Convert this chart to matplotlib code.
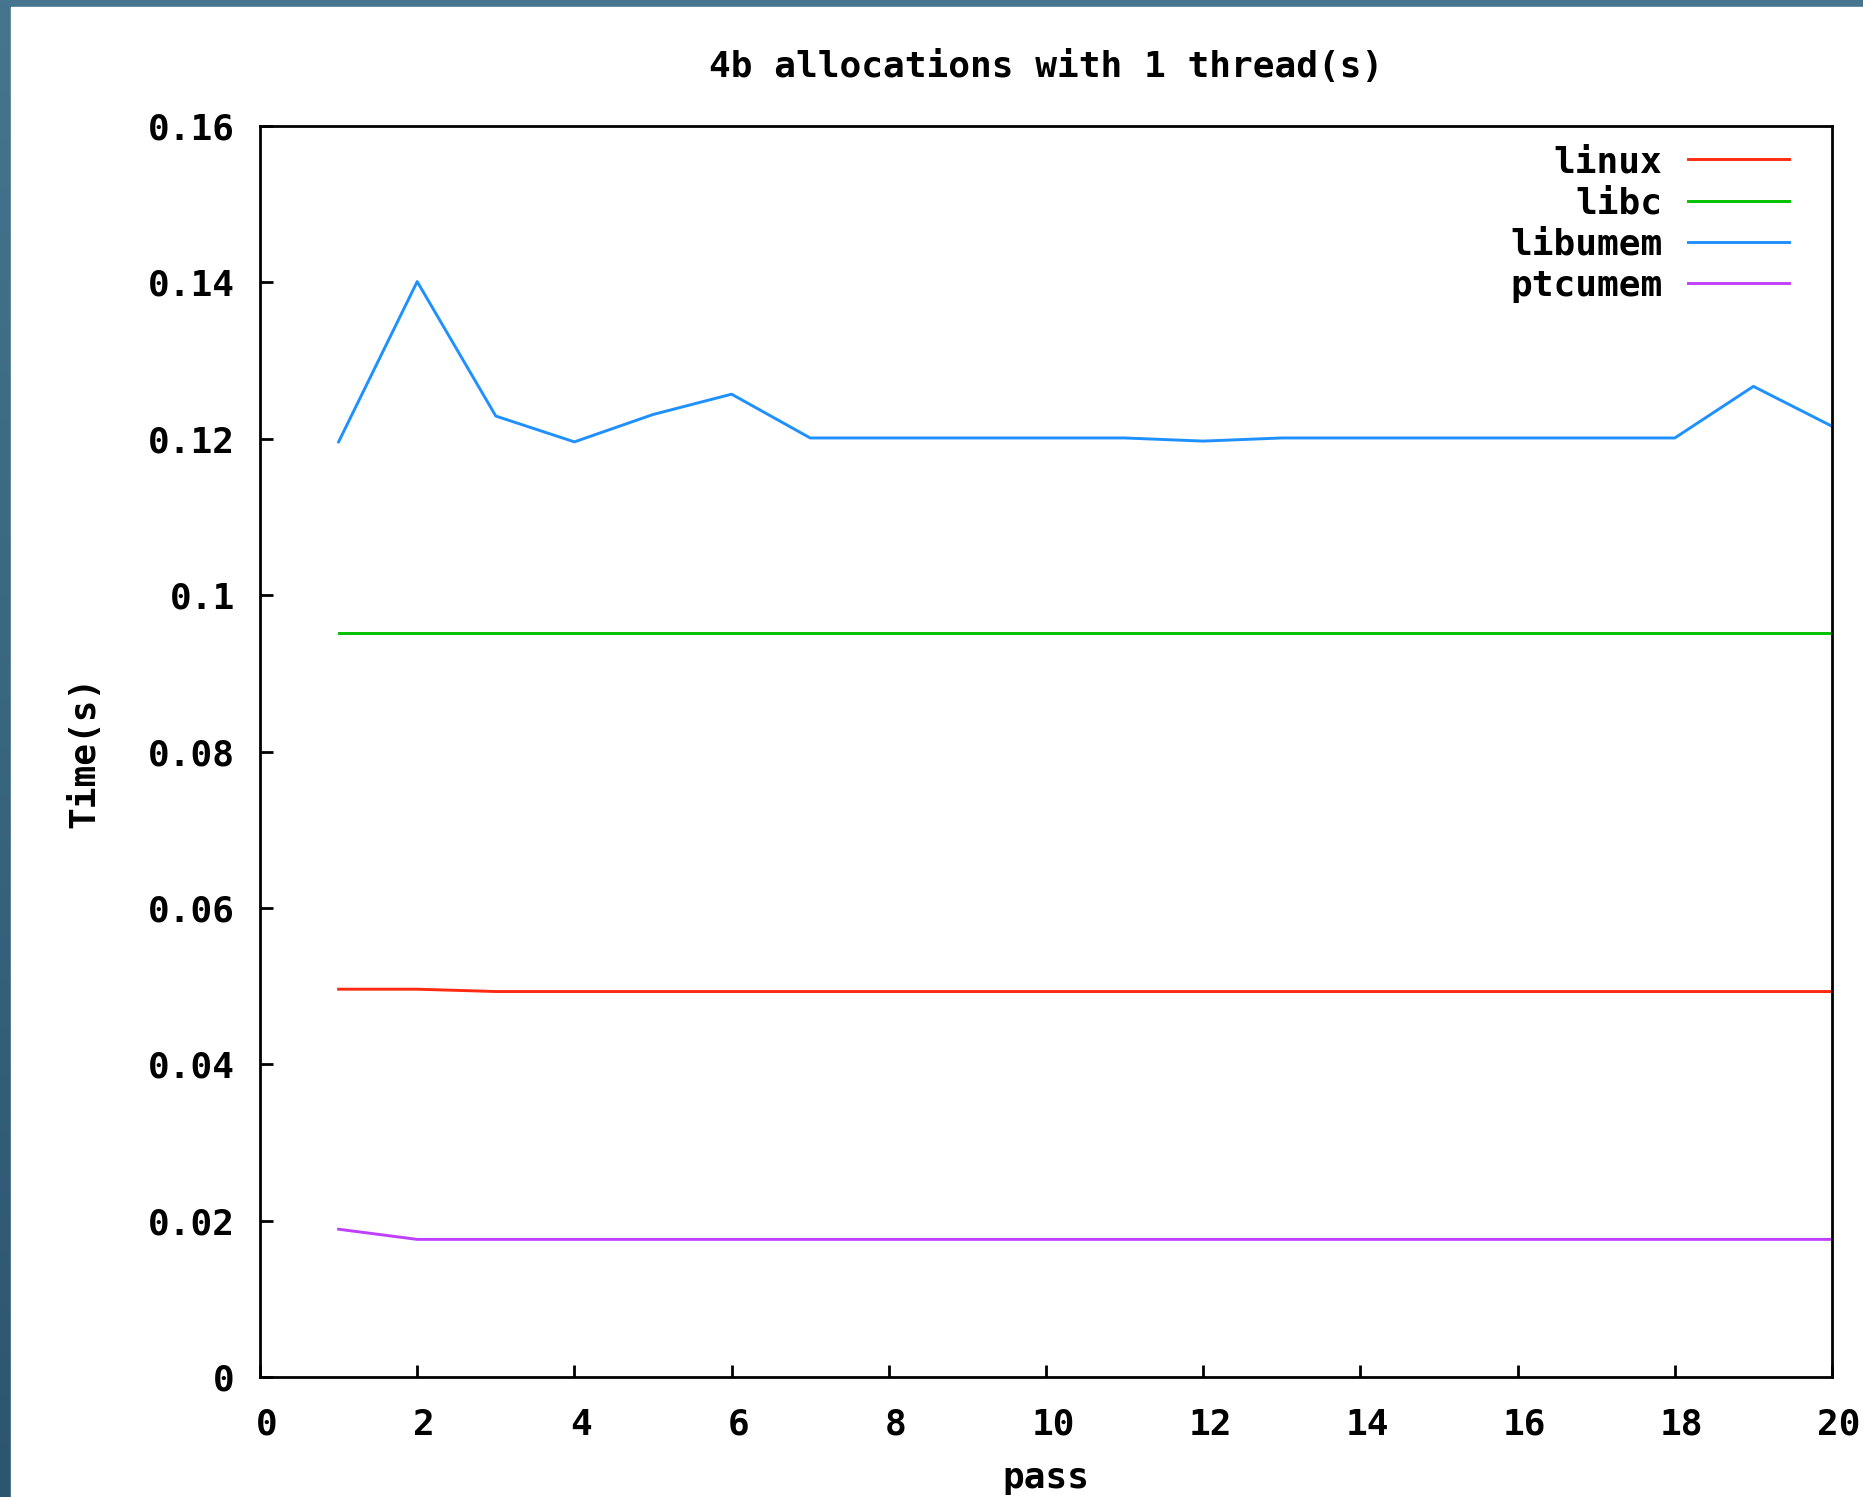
import numpy as np
import matplotlib
matplotlib.use('Agg')
import matplotlib.pyplot as plt
from matplotlib.colors import LinearSegmentedColormap
from matplotlib.patches import Rectangle
from matplotlib.transforms import ScaledTranslation
from matplotlib.ticker import FuncFormatter

# pass number on x
passes = list(range(1, 21))

# timings (s) per allocator
linux = [0.0496, 0.0496, 0.0493, 0.0493, 0.0493, 0.0493, 0.0493, 0.0493, 0.0493, 0.0493,
         0.0493, 0.0493, 0.0493, 0.0493, 0.0493, 0.0493, 0.0493, 0.0493, 0.0493, 0.0493]
libc = [0.0951] * 20
libumem = [0.1196, 0.1401, 0.1229, 0.1196, 0.1231, 0.1257, 0.1201, 0.1201, 0.1201, 0.1201,
           0.1201, 0.1197, 0.1201, 0.1201, 0.1201, 0.1201, 0.1201, 0.1201, 0.1267, 0.1216]
ptcumem = [0.0189, 0.0176, 0.0176, 0.0176, 0.0176, 0.0176, 0.0176, 0.0176, 0.0176, 0.0176,
           0.0176, 0.0176, 0.0176, 0.0176, 0.0176, 0.0176, 0.0176, 0.0176, 0.0176, 0.0176]

series_names = ['linux', 'libc', 'libumem', 'ptcumem']
series_colors = ['#ff2a10', '#00c000', '#1e90ff', '#c040ff']

W, H = 1863, 1497
FS = 26
plt.rcParams['font.family'] = ['DejaVu Sans Mono']
plt.rcParams['font.weight'] = 'bold'
plt.rcParams['axes.labelweight'] = 'bold'
plt.rcParams['axes.titleweight'] = 'bold'
plt.rcParams['font.size'] = FS

fig = plt.figure(figsize=(W / 100, H / 100), dpi=100)

# blue window edge (left and top) with a slight gradient
bg = fig.add_axes([0, 0, 1, 1], zorder=-5)
bg.axis('off')
grad = np.linspace(0, 1, 256).reshape(-1, 1)
cmap = LinearSegmentedColormap.from_list('edge', ['#45758f', '#2c5570'])
bg.imshow(grad, aspect='auto', cmap=cmap, extent=[0, 1, 0, 1], origin='upper')
bg.add_patch(Rectangle((11 / W, 0), 1, 1 - 7 / H, color='white', transform=bg.transAxes))

ax = fig.add_axes([260 / W, (H - 1377) / H, 1572 / W, 1251 / H])
ax.patch.set_facecolor('white')

data = [linux, libc, libumem, ptcumem]
for vals, name, col in zip(data, series_names, series_colors):
    ax.plot(passes, vals, color=col, lw=2.1, label=name)

ax.set_xlim(0, 20)
ax.set_ylim(0, 0.16)
ax.set_xticks(np.arange(0, 21, 2))
ax.set_yticks(np.arange(0, 0.161, 0.02))
ax.xaxis.set_major_formatter(FuncFormatter(lambda v, p: '%g' % round(v, 4)))
ax.yaxis.set_major_formatter(FuncFormatter(lambda v, p: '%g' % round(v, 4)))
ax.tick_params(direction='in', length=9, width=2, top=False, right=False, labelsize=FS)
ax.tick_params(axis='y', pad=18)
ax.tick_params(axis='x', pad=22)
for lab in ax.get_xticklabels():
    lab.set_transform(lab.get_transform() + ScaledTranslation(7 / 100, 0, fig.dpi_scale_trans))
for s in ax.spines.values():
    s.set_linewidth(2)
    s.set_color('black')

ax.set_title('4b allocations with 1 thread(s)', pad=35, fontsize=FS)
ax.set_xlabel('pass', fontsize=FS)
ax.xaxis.set_label_coords(0.5, -(1461 - 1377) / 1251)
ax.set_ylabel('Time(s)', fontsize=FS)
ax.yaxis.set_label_coords((101 - 260) / 1572, 0.5)

ax.legend(loc='upper right', bbox_to_anchor=((1789 - 260) / 1572, 1 - (145 - 126) / 1251),
          frameon=False, markerfirst=False, borderaxespad=0, borderpad=0,
          handlelength=2.8, handletextpad=0.7, labelspacing=0.2, fontsize=FS)

plt.savefig('out.png', dpi=100)
